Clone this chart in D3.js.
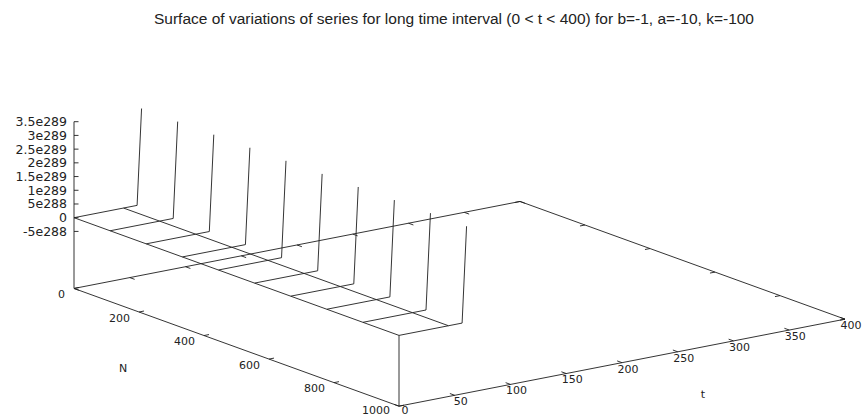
<!DOCTYPE html>
<html>
<head>
<meta charset="utf-8">
<script src="https://cdn.jsdelivr.net/npm/d3@7"></script>
<style>
  body { margin: 0; background: #fff; }
  .holder { width: 862px; height: 417px; }
  text { fill: #222; }
</style>
</head>
<body>
<div class="holder"></div>
<script>
// isolines along t, one per N value
var nValues = [0, 111.1, 222.2, 333.3, 444.4, 555.6, 666.7, 777.8, 888.9, 1000];
// samples along each t isoline (flat until the blow up)
var tSamples = [0, 44.4, 56.6, 60.6];
var zSamples = [0, 0, 0, 3.5e289];
// isolines along N (the later ones are undefined / off range)
var tIsoValues = [0, 44.4];

var nTicks = [0, 200, 400, 600, 800, 1000];
var tTicks = [0, 50, 100, 150, 200, 250, 300, 350, 400];
var zTicks = [-5e288, 0, 5e288, 1e289, 1.5e289, 2e289, 2.5e289, 3e289, 3.5e289];
var zTickLabels = ["-5e288", "0", "5e288", "1e289", "1.5e289", "2e289", "2.5e289", "3e289", "3.5e289"];

var nRange = [0, 1000], tRange = [0, 400], zMax = 3.5e289, zFloor = -2.58e289;

var width = 862, height = 417;

/* projection: origin is (N=0, t=0, z=0), each axis is a screen vector */
var origin = [74, 217.7];
var vN = [325, 117.7];
var vT = [446, -87];
var sN = d3.scaleLinear().domain(nRange).range([0, 1]);
var sT = d3.scaleLinear().domain(tRange).range([0, 1]);
var sZ = d3.scaleLinear().domain([0, zMax]).range([0, -96]);

function proj(n, t, z) {
  return [origin[0] + sN(n) * vN[0] + sT(t) * vT[0],
          origin[1] + sN(n) * vN[1] + sT(t) * vT[1] + sZ(z)];
}
var line = d3.line();

var svg = d3.select(".holder")
      .append("svg")
      .attr("width", width)
      .attr("height", height);

var grp = svg.append("g")
      .attr("fill", "none")
      .attr("stroke", "#1e1e1e")
      .attr("stroke-width", 0.9);

/* base of the box */
var floor = [proj(0, 0, zFloor), proj(1000, 0, zFloor), proj(1000, 400, zFloor), proj(0, 400, zFloor), proj(0, 0, zFloor)];
grp.append("path").attr("d", line(floor));

/* z axis (left vertical) and corner line of the surface */
grp.append("path").attr("d", line([proj(0, 0, zFloor), proj(0, 0, zMax)]));
grp.append("path").attr("d", line([proj(1000, 0, zFloor), proj(1000, 0, 0)]));

/* N tics on t=0 edge and mirrored on t=400 edge */
nTicks.forEach(function(n) {
  grp.append("path").attr("d", line([proj(n, 0, zFloor), proj(n, 4.5, zFloor)]));
  grp.append("path").attr("d", line([proj(n, 400, zFloor), proj(n, 395.5, zFloor)]));
});
/* t tics on N=1000 edge and mirrored on N=0 edge */
tTicks.forEach(function(t) {
  grp.append("path").attr("d", line([proj(1000, t, zFloor), proj(985, t, zFloor)]));
  grp.append("path").attr("d", line([proj(0, t, zFloor), proj(15, t, zFloor)]));
});
/* z tics */
zTicks.forEach(function(z) {
  var p = proj(0, 0, z);
  grp.append("path").attr("d", line([p, [p[0] + 4.5, p[1]]]));
});

/* surface: isolines along t */
nValues.forEach(function(n) {
  var pts = tSamples.map(function(t, i) { return proj(n, t, zSamples[i]); });
  grp.append("path").attr("class", "iso-t").attr("d", line(pts));
});
/* surface: isolines along N */
tIsoValues.forEach(function(t) {
  var pts = nValues.map(function(n) { return proj(n, t, 0); });
  grp.append("path").attr("class", "iso-n").attr("d", line(pts));
});

/* tick labels */
var labels = svg.append("g")
      .style("font-family", "DejaVu Sans, Verdana, sans-serif")
      .style("font-size", "11px");

zTicks.forEach(function(z, i) {
  var p = proj(0, 0, z);
  labels.append("text").attr("x", p[0] - 7).attr("y", p[1])
      .attr("dy", "0.35em").attr("text-anchor", "end")
      .style("font-size", "12.5px")
      .text(zTickLabels[i]);
});
// keep the lowest labels inside the picture
nTicks.forEach(function(n) {
  var p = proj(n, 0, zFloor);
  labels.append("text").attr("x", p[0] - 9).attr("y", Math.min(p[1] + 6, 410))
      .attr("dy", "0.35em").attr("text-anchor", "end")
      .text(n);
});
tTicks.forEach(function(t) {
  var p = proj(1000, t, zFloor);
  labels.append("text").attr("x", p[0] + 6).attr("y", Math.min(p[1] + 6, 410))
      .attr("dy", "0.35em").attr("text-anchor", "middle")
      .text(t);
});

/* axis labels */
labels.append("text").attr("x", 123).attr("y", 368).attr("dy", "0.35em")
    .attr("text-anchor", "middle").text("N");
labels.append("text").attr("x", 703).attr("y", 394).attr("dy", "0.35em")
    .attr("text-anchor", "middle").text("t");

/* title */
svg.append("text")
    .attr("x", 454).attr("y", 19).attr("dy", "0.35em")
    .attr("text-anchor", "middle")
    .attr("textLength", 600).attr("lengthAdjust", "spacingAndGlyphs")
    .style("font-family", "Liberation Sans, Arial, sans-serif")
    .style("font-size", "14px")
    .text("Surface of variations of series for long time interval (0 < t < 400) for b=-1, a=-10, k=-100");
</script>
</body>
</html>
